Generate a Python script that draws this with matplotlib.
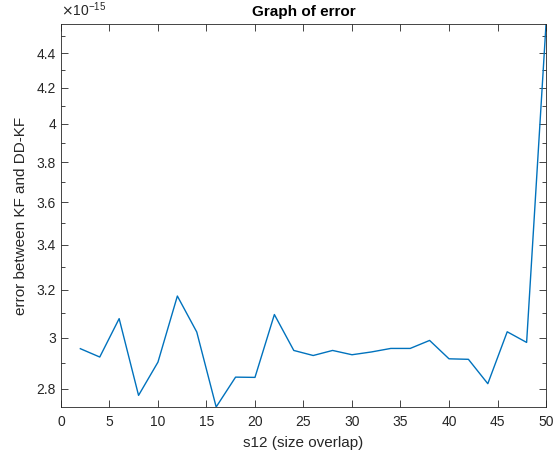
import matplotlib
matplotlib.use('Agg')
import matplotlib.pyplot as plt
from matplotlib.ticker import FixedLocator, FuncFormatter, NullFormatter

plt.rcParams['font.family'] = ['Liberation Sans', 'DejaVu Sans']

# data, error in units of 1e-15
s12 = [2, 4, 6, 8, 10, 12, 14, 16, 18, 20, 22, 24, 26,
       28, 30, 32, 34, 36, 38, 40, 42, 44, 46, 48, 50]
err = [2.956, 2.923, 3.078, 2.776, 2.903, 3.173, 3.023, 2.733, 2.845, 2.844,
       3.095, 2.949, 2.929, 2.949, 2.932, 2.943, 2.957, 2.957, 2.989, 2.916,
       2.914, 2.820, 3.024, 2.981, 4.575]
scale = 1e-15
yticks = [2.8, 3.0, 3.2, 3.4, 3.6, 3.8, 4.0, 4.2, 4.4]
yminor = [2.9, 3.1, 3.3, 3.5, 3.7, 3.9, 4.1, 4.3, 4.5]
xticks = [0, 5, 10, 15, 20, 25, 30, 35, 40, 45, 50]

grey = (0.15, 0.15, 0.15)
blue = (0, 0.447, 0.741)

fig = plt.figure(figsize=(5.54, 4.63), dpi=100)
ax = fig.add_axes([0.110, 0.121, 0.8756, 0.827])

ax.plot(s12, [e * scale for e in err], color=blue, lw=1.0)
ax.set_yscale('log')
ax.set_xlim(0, 50)
ax.set_ylim(min(err) * scale, max(err) * scale)

ax.set_xticks(xticks)
ax.yaxis.set_major_locator(FixedLocator([v * scale for v in yticks]))
ax.yaxis.set_minor_locator(FixedLocator([v * scale for v in yminor]))
ax.yaxis.set_major_formatter(FuncFormatter(lambda v, p: '%g' % round(v / scale, 2)))
ax.yaxis.set_minor_formatter(NullFormatter())

ax.tick_params(which='both', direction='in', top=True, right=True,
               colors=grey, labelsize=10, width=0.6)
ax.tick_params(which='major', length=5)
ax.tick_params(which='minor', length=3)
ax.tick_params(axis='x', pad=6)
for sp in ax.spines.values():
    sp.set_color(grey)
    sp.set_linewidth(0.6)

ax.set_title('Graph of error', fontsize=11, fontweight='bold', color='black', pad=6)
ax.set_xlabel('s12 (size overlap)', fontsize=11, color=grey, labelpad=5)
ax.set_ylabel('error between KF and DD-KF', fontsize=11, color=grey, labelpad=6)
ax.text(0, 1.012, r'$\times\mathregular{10^{-15}}$', transform=ax.transAxes,
        fontsize=10, color=grey, ha='left', va='bottom')

fig.savefig('out.png', dpi=100)
